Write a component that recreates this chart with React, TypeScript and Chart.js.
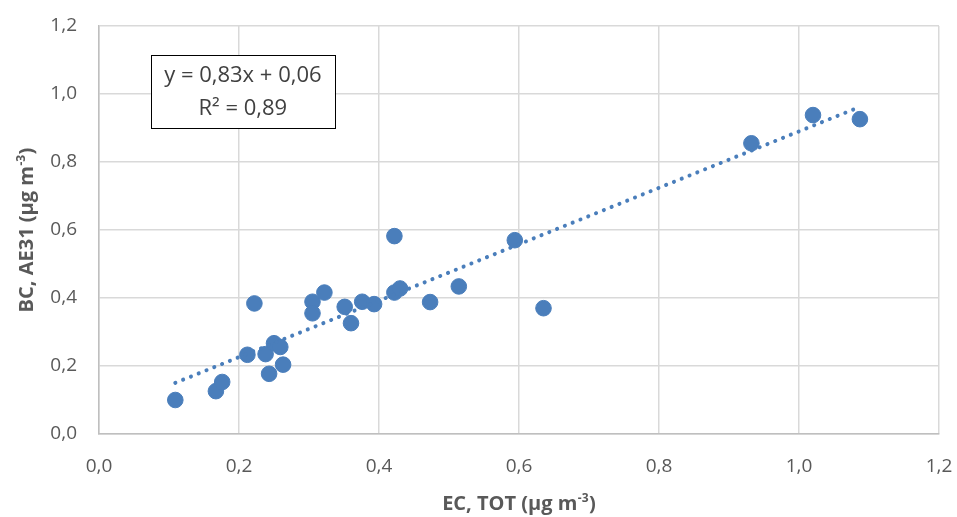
import React, { useEffect, useRef } from 'react';
import { Chart, registerables } from 'chart.js';
Chart.register(...registerables);

const ecTot = [0.109, 0.167, 0.176, 0.222, 0.212, 0.238, 0.243, 0.25, 0.259, 0.263, 0.305, 0.305, 0.322, 0.351, 0.36, 0.376, 0.393, 0.422, 0.422, 0.43, 0.473, 0.514, 0.594, 0.635, 0.932, 1.02, 1.087];
const bcAe31 = [0.1, 0.126, 0.153, 0.384, 0.233, 0.235, 0.177, 0.267, 0.256, 0.204, 0.389, 0.355, 0.416, 0.374, 0.326, 0.389, 0.382, 0.582, 0.416, 0.428, 0.388, 0.434, 0.57, 0.37, 0.855, 0.938, 0.926];
const trendSlope = 0.83;
const trendIntercept = 0.06;
const eqLabel = 'y = 0,83x + 0,06';
const r2Label = 'R² = 0,89';
const xTitleMain = 'EC, TOT (µg m';
const yTitleMain = 'BC, AE31 (µg m';
const titleSup = '-3';
const titleEnd = ')';
const axisMin = 0;
const axisMax = 1.2;
const axisStep = 0.2;

const FONT = "'Open Sans', sans-serif";
const BLUE = '#4A7EBB';
const TEXT = '#595959';

function drawSupTitle(ctx: CanvasRenderingContext2D, main: string, sup: string, end: string, size: number) {
  const mainFont = `bold ${size}px ${FONT}`;
  const supFont = `bold ${Math.round(size * 0.62)}px ${FONT}`;
  ctx.font = mainFont;
  const w1 = ctx.measureText(main).width;
  const w3 = ctx.measureText(end).width;
  ctx.font = supFont;
  const w2 = ctx.measureText(sup).width;
  const total = w1 + w2 + w3 + 1;
  let x = -total / 2;
  ctx.textAlign = 'left';
  ctx.textBaseline = 'alphabetic';
  ctx.font = mainFont;
  ctx.fillText(main, x, 0);
  x += w1 + 0.5;
  ctx.font = supFont;
  ctx.fillText(sup, x, -size * 0.4);
  x += w2 + 0.5;
  ctx.font = mainFont;
  ctx.fillText(end, x, 0);
}

export default function App() {
  const ref = useRef<HTMLCanvasElement>(null);
  useEffect(() => {
    document.body.style.margin = '0';
    const xMin = Math.min(...ecTot);
    const xMax = Math.max(...ecTot);
    const trend = [
      { x: xMin, y: trendSlope * xMin + trendIntercept },
      { x: xMax, y: trendSlope * xMax + trendIntercept },
    ];
    const overlayPlugin = {
      id: 'overlay',
      afterDraw(chart: any) {
        const { ctx, scales, chartArea } = chart;
        const x = scales.x, y = scales.y;
        const l = x.getPixelForValue(0.074), r = x.getPixelForValue(0.337);
        const t = y.getPixelForValue(1.115), b = y.getPixelForValue(0.9);
        ctx.save();
        ctx.fillStyle = '#ffffff';
        ctx.fillRect(l, t, r - l, b - t);
        ctx.strokeStyle = '#000000';
        ctx.lineWidth = 1;
        ctx.strokeRect(Math.round(l) + 0.5, Math.round(t) + 0.5, Math.round(r - l), Math.round(b - t));
        ctx.fillStyle = '#404040';
        ctx.font = `22px ${FONT}`;
        ctx.textAlign = 'center';
        ctx.textBaseline = 'middle';
        const cx = (l + r) / 2;
        ctx.fillText(eqLabel, cx, t + (b - t) * 0.29);
        ctx.fillText(r2Label, cx, t + (b - t) * 0.73);
        ctx.restore();
        ctx.save();
        ctx.fillStyle = TEXT;
        ctx.translate((chartArea.left + chartArea.right) / 2, 510);
        drawSupTitle(ctx, xTitleMain, titleSup, titleEnd, 20);
        ctx.restore();
        ctx.save();
        ctx.fillStyle = TEXT;
        ctx.translate(33, (chartArea.top + chartArea.bottom) / 2);
        ctx.rotate(-Math.PI / 2);
        drawSupTitle(ctx, yTitleMain, titleSup, titleEnd, 20);
        ctx.restore();
      },
    };
    const fmt = (v: any) => Number(v).toFixed(1).replace('.', ',');
    const chart = new Chart(ref.current!, {
      type: 'scatter',
      data: {
        datasets: [
          {
            type: 'line',
            data: trend,
            borderColor: BLUE,
            borderWidth: 4,
            borderDash: [0.1, 8.3],
            borderCapStyle: 'round',
            pointRadius: 0,
            fill: false,
            order: 0,
          } as any,
          {
            data: ecTot.map((v, i) => ({ x: v, y: bcAe31[i] })),
            backgroundColor: BLUE,
            borderColor: BLUE,
            pointRadius: 7.8,
            pointHoverRadius: 7.8,
            order: 1,
          },
        ],
      },
      options: {
        animation: false,
        responsive: false,
        layout: { padding: { top: 26, right: 18, left: 0, bottom: 0 } },
        plugins: { legend: { display: false }, tooltip: { enabled: false } },
        scales: {
          x: {
            type: 'linear',
            min: axisMin,
            max: axisMax,
            ticks: {
              stepSize: axisStep,
              color: TEXT,
              font: { family: FONT, size: 19 },
              padding: 21,
              callback: fmt,
            },
            grid: { color: '#d9d9d9', lineWidth: 1.5, drawTicks: false },
            border: { color: '#bfbfbf', width: 1.5 },
            afterFit: (s: any) => { s.height = 83; s.paddingLeft = 0; s.paddingRight = 0; },
          },
          y: {
            type: 'linear',
            min: axisMin,
            max: axisMax,
            ticks: {
              stepSize: axisStep,
              color: TEXT,
              font: { family: FONT, size: 19 },
              padding: 22,
              callback: fmt,
            },
            grid: { color: '#d9d9d9', lineWidth: 1.5, drawTicks: false },
            border: { color: '#bfbfbf', width: 1.5 },
            afterFit: (s: any) => { s.width = 99; s.paddingTop = 0; s.paddingBottom = 0; },
          },
        },
      },
      plugins: [overlayPlugin],
    });
    return () => chart.destroy();
  }, []);
  return (
    <div style={{ width: 957, height: 517 }}>
      <canvas ref={ref} width={957} height={517} style={{ display: 'block' }} />
    </div>
  );
}
